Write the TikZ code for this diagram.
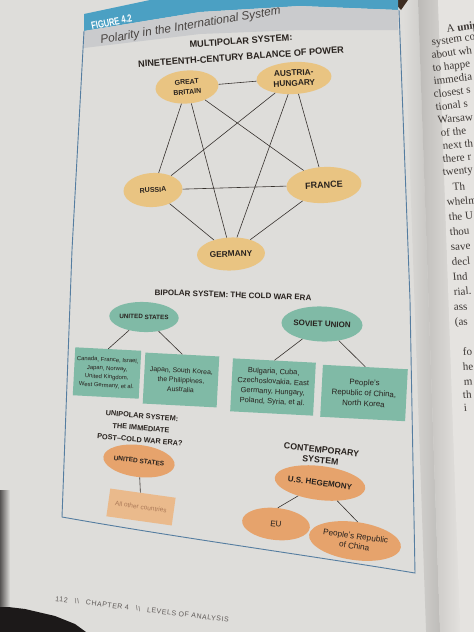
\documentclass[tikz,border=0pt]{standalone}
\usepackage{fontspec}
\setmainfont{Liberation Sans}
\newfontfamily\serifpage{Liberation Serif}
\newfontfamily\footfont[LetterSpace=8]{Liberation Sans}
\usetikzlibrary{shapes.geometric}
\newcommand\fsz[2]{\fontsize{#1}{#2}\selectfont}
\definecolor{pagebg}{RGB}{222,221,218}
\definecolor{rightpage}{RGB}{229,227,224}
\definecolor{gutter}{RGB}{188,186,183}
\definecolor{hdrblue}{RGB}{75,160,195}
\definecolor{hdrgrey}{RGB}{202,203,205}
\definecolor{framec}{RGB}{85,125,160}
\definecolor{tanc}{RGB}{233,196,130}
\definecolor{greenc}{RGB}{128,186,166}
\definecolor{orangec}{RGB}{230,163,108}
\definecolor{lorangec}{RGB}{234,186,140}
\definecolor{ink}{RGB}{40,34,30}
\definecolor{linec}{RGB}{55,50,46}
\definecolor{alltext}{RGB}{172,122,88}
\definecolor{footc}{RGB}{95,90,88}
\definecolor{rptext}{RGB}{60,55,52}
\definecolor{darkc}{RGB}{28,25,25}
\begin{document}
\begin{tikzpicture}[x=1pt,y=-1pt,
  edge/.style={draw=linec, line width=0.6pt},
  mp/.style={ellipse, fill=tanc, inner sep=0pt, align=center, text=ink},
  bp/.style={ellipse, fill=greenc, inner sep=0pt, align=center, text=ink},
  bbox/.style={rectangle, fill=greenc, inner sep=0pt, align=center, text=ink},
  up/.style={ellipse, fill=orangec, inner sep=0pt, align=center, text=ink},
  ttl/.style={text=ink, inner sep=0pt, align=center},
  rp/.style={anchor=base west, inner sep=0pt, text=rptext, font=\serifpage\fsz{11}{13}},
]
\useasboundingbox (0,0) rectangle (474,632);
\clip (0,0) rectangle (474,632);
% page
\fill[pagebg] (0,0) rectangle (474,632);
\begin{scope}[shift={(404,0)}, rotate=2]
  \shade[left color=pagebg, right color=gutter] (0,-20) rectangle (14,700);
  \shade[left color=gutter, right color=rightpage] (14,-20) rectangle (34,700);
  \fill[rightpage] (34,-20) rectangle (120,700);
\end{scope}
\fill[darkc] (0,606) -- (25,609) -- (55,616) -- (75,624) -- (86,632) -- (0,632) -- cycle;
\shade[left color=darkc!70!pagebg, right color=pagebg] (0,490) rectangle (10,606);
\fill[darkc!80!brown] (392,0) -- (408,0) -- (401,10) -- cycle;
% header
\fill[hdrblue] (84,14) -- (150,0) -- (398,0) -- (398,10) -- (300,6) -- (200,12) -- (84,31) -- cycle;
\fill[hdrgrey] (84,31) -- (200,12) -- (300,6) -- (398,10) -- (398,30) -- (300,30) -- (200,34) -- (84,48) -- cycle;
\node[anchor=base west, rotate=12, inner sep=0pt, text=white, font=\bfseries\fsz{10.5}{12}] (fig) at (92,30) {\scalebox{0.72}[1]{FIGURE 4.2}};
\node[anchor=base west, rotate=9.5, inner sep=0pt, text=ink!85, font=\itshape\fsz{11.8}{13}] (title) at (101,44) {Polarity in the International System};
% frame
\draw[framec, line width=0.9pt] (84,31) -- (72,250) -- (62,517) .. controls (180,538) and (300,554) .. (415,573) -- (410,300) -- (399,10);
% multipolar
\node[ttl, rotate=4, font=\bfseries\fsz{9.2}{11}] (mp1) at (241,41) {MULTIPOLAR SYSTEM:};
\node[ttl, rotate=4, font=\bfseries\fsz{9.2}{11}] (mp2) at (241,57) {NINETEENTH-CENTURY BALANCE OF POWER};
\node[mp, rotate=4, minimum width=63pt, minimum height=33pt, font=\bfseries\fsz{7}{10}] (gb) at (187,87) {GREAT\\BRITAIN};
\node[mp, rotate=3, minimum width=75pt, minimum height=32pt, font=\bfseries\fsz{8.3}{10.5}] (ah) at (294,78) {AUSTRIA-\\HUNGARY};
\node[mp, rotate=3, minimum width=59pt, minimum height=34pt, font=\bfseries\fsz{7}{8}] (ru) at (153,190) {RUSSIA};
\node[mp, rotate=3, minimum width=75pt, minimum height=36pt, font=\bfseries\fsz{9}{10}] (fr) at (324,185) {FRANCE};
\node[mp, rotate=2, minimum width=68pt, minimum height=33pt, font=\bfseries\fsz{8.3}{10}] (ge) at (231,254) {GERMANY};
\draw[edge] (gb) -- (ah);
\draw[edge] (gb) -- (ru);
\draw[edge] (gb) -- (ge);
\draw[edge] (gb) -- (fr);
\draw[edge] (ah) -- (ru);
\draw[edge] (ah) -- (ge);
\draw[edge] (ah) -- (fr);
\draw[edge] (ru) -- (fr);
\draw[edge] (ru) -- (ge);
\draw[edge] (fr) -- (ge);
% bipolar
\node[ttl, rotate=-2, font=\bfseries\fsz{8}{10}] (bpt) at (233,295) {BIPOLAR SYSTEM: THE COLD WAR ERA};
\node[bp, rotate=-2, minimum width=58pt, minimum height=30pt, font=\bfseries\fsz{6.3}{8}] (us) at (144,317) {UNITED STATES};
\node[bp, rotate=-2, minimum width=73pt, minimum height=35pt, font=\bfseries\fsz{8}{9}] (su) at (322,324) {SOVIET UNION};
\node[bbox, rotate=-3, minimum width=66pt, minimum height=48pt, font=\fsz{5.9}{8.6}] (b1) at (107,373) {Canada, France, Israel,\\Japan, Norway,\\United Kingdom,\\West Germany, et al.};
\node[bbox, rotate=-3, minimum width=74pt, minimum height=51pt, font=\fsz{6.9}{9.5}] (b2) at (181,380) {Japan, South Korea,\\the Philippines,\\Australia};
\node[bbox, rotate=-3, minimum width=83pt, minimum height=53pt, font=\fsz{7.5}{10}] (b3) at (273,387) {Bulgaria, Cuba,\\Czechoslovakia, East\\Germany, Hungary,\\Poland, Syria, et al.};
\node[bbox, rotate=-3, minimum width=85pt, minimum height=52pt, font=\fsz{7.9}{10.5}] (b4) at (364,393) {People's\\Republic of China,\\North Korea};
\draw[edge] (us) -- (b1.north);
\draw[edge] (us) -- (b2.north);
\draw[edge] (su) -- (b3.north);
\draw[edge] (su) -- (b4.north);
% unipolar
\node[ttl, rotate=-5, font=\bfseries\fsz{7.3}{12}] (upt) at (141,428) {UNIPOLAR SYSTEM:\\THE IMMEDIATE\\POST–COLD WAR ERA?};
\node[up, rotate=-7, minimum width=58pt, minimum height=32pt, font=\bfseries\fsz{6.5}{8}] (uus) at (139,461) {UNITED STATES};
\node[rectangle, fill=lorangec, inner sep=0pt, rotate=-8, minimum width=66pt, minimum height=28pt, text=alltext, font=\fsz{6.5}{8}] (allb) at (141,507) {All other countries};
\draw[edge] (uus) -- (allb);
% contemporary
\node[ttl, rotate=-6, font=\bfseries\fsz{8.8}{10.5}] (ct) at (321,455) {CONTEMPORARY\\SYSTEM};
\node[up, rotate=-7, minimum width=74pt, minimum height=34pt, font=\bfseries\fsz{8}{9}] (heg) at (320,483) {U.S. HEGEMONY};
\node[up, rotate=-6, minimum width=68pt, minimum height=32pt, font=\fsz{8.2}{9}] (eu) at (276,524) {EU};
\node[up, rotate=-8, minimum width=76pt, minimum height=38pt, font=\fsz{8.2}{10}] (prc) at (355,541) {People's Republic\\of China};
\draw[edge] (heg) -- (eu.north);
\draw[edge] (heg) -- (prc.north);
% footer
\node[anchor=base west, rotate=-7, inner sep=0pt, text=footc, font=\footfont\fsz{7}{8}] (foot) at (55,601) {112\hspace{7pt}\textbackslash\textbackslash\hspace{7pt}CHAPTER 4\hspace{7pt}\textbackslash\textbackslash\hspace{7pt}LEVELS OF ANALYSIS};
% right page
\node[rp, rotate=8] (r1) at (447,33) {A \textbf{unip}};
\node[rp, rotate=8] (r2) at (432,46) {system co};
\node[rp, rotate=8] (r3) at (432,59) {about wh};
\node[rp, rotate=7] (r4) at (433,72) {to happe};
\node[rp, rotate=7] (r5) at (434,85) {immedia};
\node[rp, rotate=7] (r6) at (434,98) {closest s};
\node[rp, rotate=7] (r7) at (436,111) {tional s};
\node[rp, rotate=6] (r8) at (438,124) {Warsaw};
\node[rp, rotate=6] (r9) at (441,137) {of the};
\node[rp, rotate=6] (r10) at (443,150) {next th};
\node[rp, rotate=6] (r11) at (443,163) {there r};
\node[rp, rotate=6] (r12) at (443,176) {twenty};
\node[rp, rotate=5] (r13) at (453,191) {Th};
\node[rp, rotate=5] (r14) at (447,206) {whelm};
\node[rp, rotate=5] (r15) at (449,221) {the U};
\node[rp, rotate=5] (r16) at (450,236) {thou};
\node[rp, rotate=5] (r17) at (451,251) {save};
\node[rp, rotate=5] (r18) at (452,266) {decl};
\node[rp, rotate=5] (r19) at (453,281) {Ind};
\node[rp, rotate=5] (r20) at (454,296) {rial.};
\node[rp, rotate=5] (r21) at (454,311) {ass};
\node[rp, rotate=5] (r22) at (455,326) {(as};
\node[rp, rotate=4] (r23) at (463,356) {fo};
\node[rp, rotate=4] (r24) at (463,371) {he};
\node[rp, rotate=4] (r25) at (464,386) {m};
\node[rp, rotate=4] (r26) at (463,399) {th};
\node[rp, rotate=4] (r27) at (464,412) {i};
\end{tikzpicture}
\end{document}
